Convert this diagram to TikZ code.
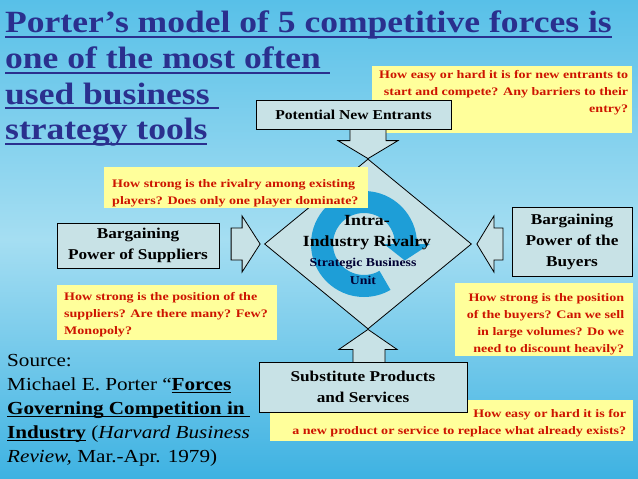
\documentclass[tikz,border=0pt]{standalone}
\usepackage{fontspec}
\setmainfont{Liberation Serif}
\newfontfamily\widefont[FakeStretch=1.15]{Liberation Serif}
\newfontfamily\notefont[FakeStretch=1.22]{Liberation Serif}
\usetikzlibrary{shapes.geometric}
\definecolor{skytop}{RGB}{88,192,232}
\definecolor{skymid}{RGB}{165,222,242}
\definecolor{skybot}{RGB}{62,178,226}
\definecolor{boxfill}{RGB}{200,226,230}
\definecolor{notefill}{RGB}{255,255,155}
\definecolor{notered}{RGB}{205,20,0}
\definecolor{titleblue}{RGB}{42,48,142}
\definecolor{swirlblue}{RGB}{30,158,215}
\newcommand{\ulinetext}[2][2pt]{\setbox0=\hbox{#2}\rlap{\rule[-0.16em]{\wd0}{#1}}\box0}

\begin{document}
\begin{tikzpicture}[x=1pt,y=-1pt]
\tikzstyle{every node}+=[inner sep=0pt]
\tikzstyle{sky}=[top color=skytop, bottom color=skybot, middle color=skymid]
\tikzstyle{force}=[draw=black, fill=boxfill, line width=0.8pt, align=center, font=\widefont\bfseries\fontsize{15}{21}\selectfont]
\tikzstyle{notebox}=[fill=notefill]
\tikzstyle{notetext}=[text=notered, font=\notefont\bfseries\fontsize{11.5}{17}\selectfont]
\tikzstyle{bigarrow}=[draw=black, fill=boxfill, line width=0.8pt, line join=miter]
\shade [sky] (0,0) rectangle (638,479);
\useasboundingbox (0,0) rectangle (638,479);
\node [anchor=north west, align=left, text=titleblue, font=\widefont\bfseries\fontsize{30.9}{35.6}\selectfont] (title) at (5,11) {\ulinetext{Porter’s model of 5 competitive forces is}\\ \ulinetext{one of the most often\ }\\ \ulinetext{used business\ }\\ \ulinetext{strategy tools}};
\node [anchor=north west, align=left, font=\widefont\fontsize{18.4}{24}\selectfont] (source) at (7,354) {Source:\\ Michael E. Porter “\textbf{\ulinetext[1.5pt]{Forces}}\\ \textbf{\ulinetext[1.5pt]{Governing Competition in\ }}\\ \textbf{\ulinetext[1.5pt]{Industry}} (\textit{Harvard Business}\\ \textit{Review,} Mar.-Apr. 1979)};
\node [diamond, draw=black, fill=boxfill, line width=0.8pt, minimum width=207pt, minimum height=170pt] (rivalry) at (368,244) {};
\begin{scope}[shift={(rivalry.center)}, xshift=-4pt]
\fill [swirlblue] (0:53pt) arc [start angle=0, end angle=300, radius=53pt] -- (300:31pt) arc [start angle=300, end angle=0, radius=31pt] -- (0:20pt) -- (-22:44pt) -- (0:66pt) -- cycle;
\end{scope}
\node [align=center, font=\widefont\bfseries\fontsize{15.5}{21}\selectfont] (rivtitle) at (367,233) {Intra-\\ Industry Rivalry};
\node [align=center, text=black!80!blue, font=\widefont\bfseries\fontsize{12}{18}\selectfont] (rivunit) at (363,271) {Strategic Business\\ Unit};
\node [notebox, minimum width=260pt, minimum height=67pt, anchor=north west] (entrynote) at (372,66) {};
\node [notetext, align=right, anchor=north east] (entrytext) at ([shift={(-4,4)}]entrynote.north east) {How easy or hard it is for new entrants to\\ start and compete? Any barriers to their\\ entry?};
\node [notebox, minimum width=264pt, minimum height=41pt, anchor=north west] (rivnote) at (104,167) {};
\node [notetext, align=left, anchor=north west] (rivtext) at ([shift={(8,12)}]rivnote.north west) {How strong is the rivalry among existing\\ players? Does only one player dominate?};
\node [notebox, minimum width=220pt, minimum height=55pt, anchor=north west] (supnote) at (57,285) {};
\node [notetext, align=left, anchor=north west] (suptext) at ([shift={(7,7)}]supnote.north west) {How strong is the position of the\\ suppliers? Are there many? Few?\\ Monopoly?};
\node [notebox, minimum width=178pt, minimum height=73pt, anchor=north west] (buynote) at (455,283) {};
\node [notetext, align=right, anchor=north east] (buytext) at ([shift={(-9,10)}]buynote.north east) {How strong is the position\\ of the buyers? Can we sell\\ in large volumes? Do we\\ need to discount heavily?};
\node [notebox, minimum width=363pt, minimum height=41pt, anchor=north west] (subnote) at (270,400) {};
\node [notetext, align=right, anchor=north east] (subtext) at ([shift={(-7,9)}]subnote.north east) {How easy or hard it is for\\ a new product or service to replace what already exists?};
\draw [bigarrow] (rivalry.north) -- ++(-30,-18) -- ++(12,0) -- ++(0,-13) -- ++(36,0) -- ++(0,13) -- ++(12,0) -- cycle;
\draw [bigarrow] ([xshift=-4pt]rivalry.west) -- ++(-18,-28) -- ++(0,12) -- ++(-11,0) -- ++(0,32) -- ++(11,0) -- ++(0,12) -- cycle;
\draw [bigarrow] ([xshift=5pt]rivalry.east) -- ++(17,-28) -- ++(0,12) -- ++(9,0) -- ++(0,32) -- ++(-9,0) -- ++(0,12) -- cycle;
\draw [bigarrow] (rivalry.south) -- ++(-29,20) -- ++(14,0) -- ++(0,13) -- ++(32,0) -- ++(0,-13) -- ++(12,0) -- cycle;
\node [force, minimum width=195pt, minimum height=29pt, font=\widefont\bfseries\fontsize{13.6}{21}\selectfont] (entrants) at (353.5,114.5) {Potential New Entrants};
\node [force, minimum width=162pt, minimum height=45pt] (suppliers) at (138,245.5) {Bargaining\\ Power of Suppliers};
\node [force, minimum width=120pt, minimum height=69pt] (buyers) at (572,241.5) {Bargaining\\ Power of the\\ Buyers};
\node [force, minimum width=208pt, minimum height=50pt] (substitutes) at (363,387) {Substitute Products\\ and Services};
\end{tikzpicture}
\end{document}
